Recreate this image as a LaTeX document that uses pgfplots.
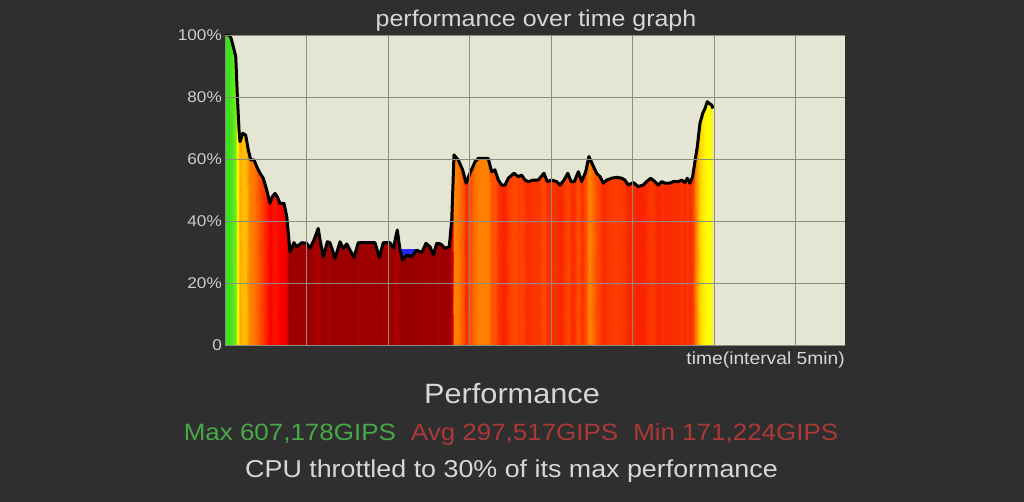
\documentclass[border=0pt]{standalone}
\usepackage{fontspec}
\setmainfont{Liberation Sans}[FakeStretch=1.1]
\usepackage{pgfplots}
\usepackage{pgfplotstable}
\pgfplotsset{compat=1.18}
\definecolor{bgc}{RGB}{47,47,47}
\definecolor{plotbg}{RGB}{229,229,212}
\definecolor{gridc}{RGB}{140,140,130}
\definecolor{tickc}{RGB}{205,205,205}
\definecolor{txtc}{RGB}{215,215,215}
\definecolor{greenc}{RGB}{72,168,72}
\definecolor{redc}{RGB}{172,56,56}
\definecolor{bluec}{RGB}{40,40,245}

% time in minutes, performance in percent of max
\pgfplotstableread{
t v
0.00 100
0.25 100
0.37 99
0.51 96.2
0.66 93
0.76 80
0.86 69.4
0.92 65.6
1.09 68.3
1.27 67.7
1.43 62.9
1.58 59.7
1.78 59.7
1.95 57.5
2.15 55.4
2.35 53.8
2.56 50
2.76 45.7
2.90 47.8
3.07 48.9
3.21 47.8
3.37 45.7
3.62 45.7
3.79 41.4
3.99 30
4.23 33
4.40 31.7
4.71 33
5.01 32.8
5.22 31.2
5.46 33.9
5.72 37.6
5.83 33.9
6.03 28.5
6.28 33.3
6.44 33
6.75 28
7.06 33.3
7.26 31.2
7.47 32.6
7.67 30.6
7.91 28.3
8.18 33
8.49 33
8.90 33
9.20 33
9.47 28.3
9.71 33
10.12 33
10.33 31.2
10.57 37.1
10.74 30.6
10.90 27.4
11.15 29
11.45 28.5
11.76 30.6
12.07 29.8
12.33 32.8
12.58 31.7
12.78 29
12.99 32.8
13.23 32.6
13.50 31.2
13.76 31.7
13.91 40.3
14.05 61.3
14.31 59.7
14.58 56.5
14.79 52.2
15.03 55.4
15.34 59.1
15.54 60.2
16.15 60.2
16.36 55.9
16.56 56.5
16.77 53.2
16.98 51.6
17.18 51.6
17.38 53.8
17.73 55.4
17.99 54.3
18.20 54.8
18.41 53.2
18.61 52.7
18.91 53.2
19.22 53.2
19.57 55.4
19.77 52.7
20.04 53.2
20.35 52.7
20.55 51.6
20.80 53.2
21.03 55.4
21.23 52.7
21.43 52.7
21.68 55.9
21.88 52.7
22.13 55.9
22.33 60.8
22.56 58.1
22.80 55.4
23.01 54.3
23.21 52.2
23.42 53.2
23.72 53.8
24.03 54.1
24.34 53.8
24.54 53.2
24.74 51.6
25.05 52.4
25.36 51.1
25.66 51.6
25.87 52.7
26.12 53.8
26.38 52.7
26.58 51.6
26.79 52.7
26.99 52.2
27.30 52.2
27.50 52.7
27.81 52.7
28.02 53.2
28.22 52.4
28.36 53.8
28.53 52.2
28.69 54.3
28.83 59.1
28.98 64
29.14 71.5
29.31 74.7
29.45 76.3
29.59 78.5
29.71 77.9
29.86 77.4
29.94 76.3
}\perf
\pgfplotstablegetrowsof{\perf}
\edef\nrows{\pgfplotsretval}
\pgfplotstablevertcat{\perfboth}{\perf}
\pgfplotstablevertcat{\perfboth}{\perf}
\pgfplotstablecreatecol[create col/expr={\pgfplotstablerow<\nrows ? 0 : \thisrow{v}}]{y}\perfboth

\begin{document}
\begin{tikzpicture}
\fill[bgc] (0pt,0pt) rectangle (1024pt,502pt);
\begin{axis}[
  at={(225pt,157pt)}, anchor=south west,
  width=620pt, height=310pt, scale only axis,
  xmin=0, xmax=38.04, ymin=0, ymax=100,
  axis background/.style={fill=plotbg},
  axis line style={draw=none},
  axis on top,
  xtick={0,5,...,35}, xticklabels={},
  ytick={0,20,...,100},
  yticklabels={0,20\%,40\%,60\%,80\%,100\%},
  major tick length=0pt,
  grid=major,
  grid style={gridc, line width=0.9pt},
  /pgf/number format/assume math mode=true,
  yticklabel style={inner sep=0pt, xshift=-3pt, text=tickc, font=\fontsize{15.6}{18}\selectfont},
  colormap={perf}{rgb255(28pt)=(150,0,0) rgb255(36pt)=(165,0,0) rgb255(42pt)=(225,0,0) rgb255(46pt)=(250,0,0) rgb255(52pt)=(250,40,0) rgb255(56pt)=(255,80,0) rgb255(60pt)=(255,125,0) rgb255(68pt)=(255,190,0) rgb255(78pt)=(255,255,0) rgb255(88pt)=(180,240,20) rgb255(100pt)=(60,225,30)},
  point meta min=28, point meta max=100,
]
\addplot[surf, shader=interp, mesh/rows=2, point meta=\thisrow{v}]
  table[x=t, y=y] {\perfboth};
\addplot[fill=bluec, draw=none] coordinates {(10.74,30.9) (11.76,30.9) (11.76,30.6) (11.45,28.5) (11.15,29) (10.90,27.4) (10.74,30.6)} -- cycle;
\addplot[black, line width=3pt, line join=round] table[x=t, y=v] {\perf};
\end{axis}
\node[anchor=base, inner sep=0pt, text=txtc, font=\fontsize{22.7}{27}\selectfont] at (536pt,475pt) {performance over time graph};
\node[anchor=base east, inner sep=0pt, text=txtc, font=\fontsize{17.5}{21}\selectfont] at (845pt,137pt) {time(interval 5min)};
\node[anchor=base, inner sep=0pt, text=txtc, font=\fontsize{27.9}{33}\selectfont] at (512pt,98pt) {Performance};
\node[anchor=base, inner sep=0pt, font=\fontsize{23.6}{28}\selectfont] at (511pt,61pt) {\textcolor{greenc}{Max 607,178GIPS}\hspace{15pt}\textcolor{redc}{Avg 297,517GIPS}\hspace{15pt}\textcolor{redc}{Min 171,224GIPS}};
\node[anchor=base, inner sep=0pt, text=txtc, font=\fontsize{24.4}{29}\selectfont] at (511.5pt,24pt) {CPU throttled to 30\% of its max performance};
\pgfresetboundingbox
\useasboundingbox (0pt,0pt) rectangle (1024pt,502pt);
\end{tikzpicture}
\end{document}
